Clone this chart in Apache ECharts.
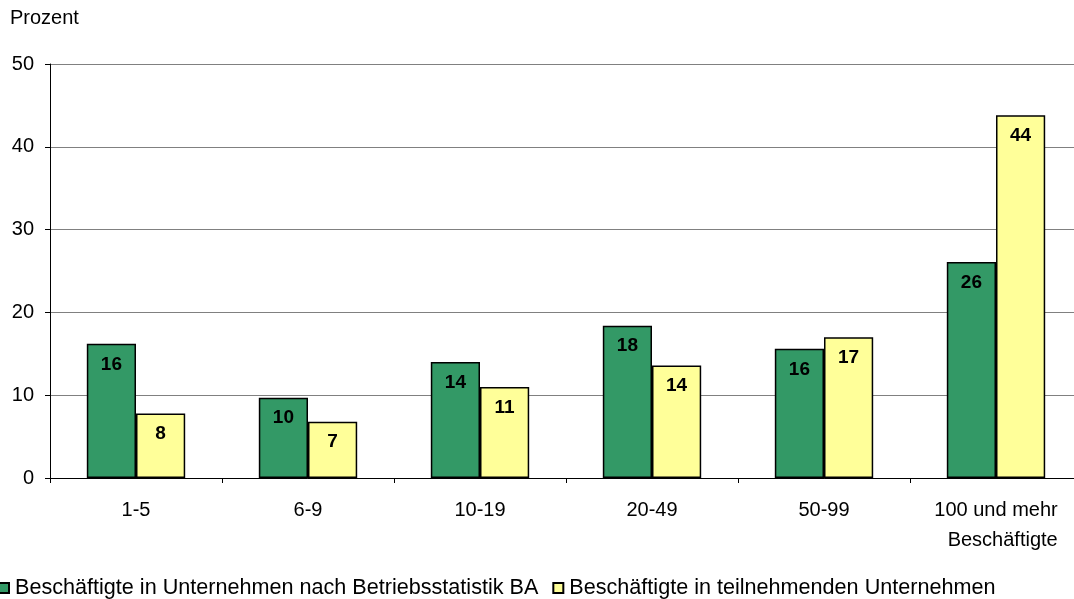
<!DOCTYPE html>
<html>
<head>
<meta charset="utf-8">
<script src="https://cdn.jsdelivr.net/npm/echarts@6/dist/echarts.min.js"></script>
<style>
  html, body { margin: 0; padding: 0; background: #fff; overflow: hidden; }
  #chart { width: 1082px; height: 599px; }
</style>
</head>
<body>
<div id="chart"></div>
<script>
const categories = ['1-5', '6-9', '10-19', '20-49', '50-99', '100 und mehr\nBeschäftigte']
const seriesNames = ['Beschäftigte in Unternehmen nach Betriebsstatistik BA', 'Beschäftigte in teilnehmenden Unternehmen']
const statistikBA = [16.2, 9.7, 14.0, 18.4, 15.6, 26.1]
const teilnehmende = [7.8, 6.8, 11.0, 13.6, 17.0, 43.8]
const yTicks = { min: 0, max: 50, interval: 10 }

const font = 'Liberation Sans, Arial, sans-serif'
// the plot runs a little past the right edge of the window, as in the original
const myChart = echarts.init(document.getElementById('chart'))

const labelStyle = {
  show: true,
  position: 'insideTop',
  distance: 11,
  formatter: p => Math.round(p.value),
  color: '#000',
  fontFamily: font,
  fontSize: 19,
  fontWeight: 'bold'
}

const option = {
  animation: false,
  textStyle: { fontFamily: font },
  grid: { left: 50, right: 0, top: 64, height: 414 },
  graphic: [
    {
      type: 'text',
      left: 10,
      top: 8,
      style: { text: 'Prozent', font: '20px ' + font, fill: '#000' }
    }
  ],
  legend: {
    left: -2,
    top: 577,
    padding: 0,
    itemWidth: 10,
    itemHeight: 10,
    itemGap: 14,
    icon: 'rect',
    textStyle: { fontSize: 21.6, color: '#000', fontFamily: font, padding: [0, 0, 0, 1] },
    data: seriesNames
  },
  xAxis: {
    type: 'category',
    data: categories,
    axisLine: { lineStyle: { color: '#000', width: 1 } },
    axisTick: { show: true, length: 5, lineStyle: { color: '#000' } },
    axisLabel: {
      color: '#000',
      fontSize: 20,
      margin: 17,
      lineHeight: 30,
      interval: 0,
      formatter: v => {
        if (v.indexOf('\n') < 0) return v
        const parts = v.split('\n')
        return '{a|' + parts[0] + '}\n{b|' + parts[1] + '}'
      },
      rich: {
        a: { fontSize: 20, fontFamily: font, color: '#000', lineHeight: 30 },
        b: { fontSize: 20, fontFamily: font, color: '#000', lineHeight: 30, align: 'right' }
      }
    }
  },
  yAxis: {
    type: 'value',
    min: yTicks.min,
    max: yTicks.max,
    interval: yTicks.interval,
    axisLine: { show: true, lineStyle: { color: '#000', width: 1 } },
    axisTick: { show: true, length: 5, lineStyle: { color: '#000' } },
    axisLabel: { color: '#000', fontSize: 20, margin: 16 },
    splitLine: { lineStyle: { color: '#808080', width: 1 } }
  },
  series: [
    {
      name: seriesNames[0],
      type: 'bar',
      data: statistikBA,
      barWidth: '28.6%',
      barGap: '0%',
      itemStyle: { color: '#339966', borderColor: '#000', borderWidth: 1.5 },
      label: labelStyle
    },
    {
      name: seriesNames[1],
      type: 'bar',
      data: teilnehmende,
      barWidth: '28.6%',
      itemStyle: { color: '#FFFF99', borderColor: '#000', borderWidth: 1.5 },
      label: labelStyle
    }
  ]
}
myChart.setOption(option)
</script>
</body>
</html>
